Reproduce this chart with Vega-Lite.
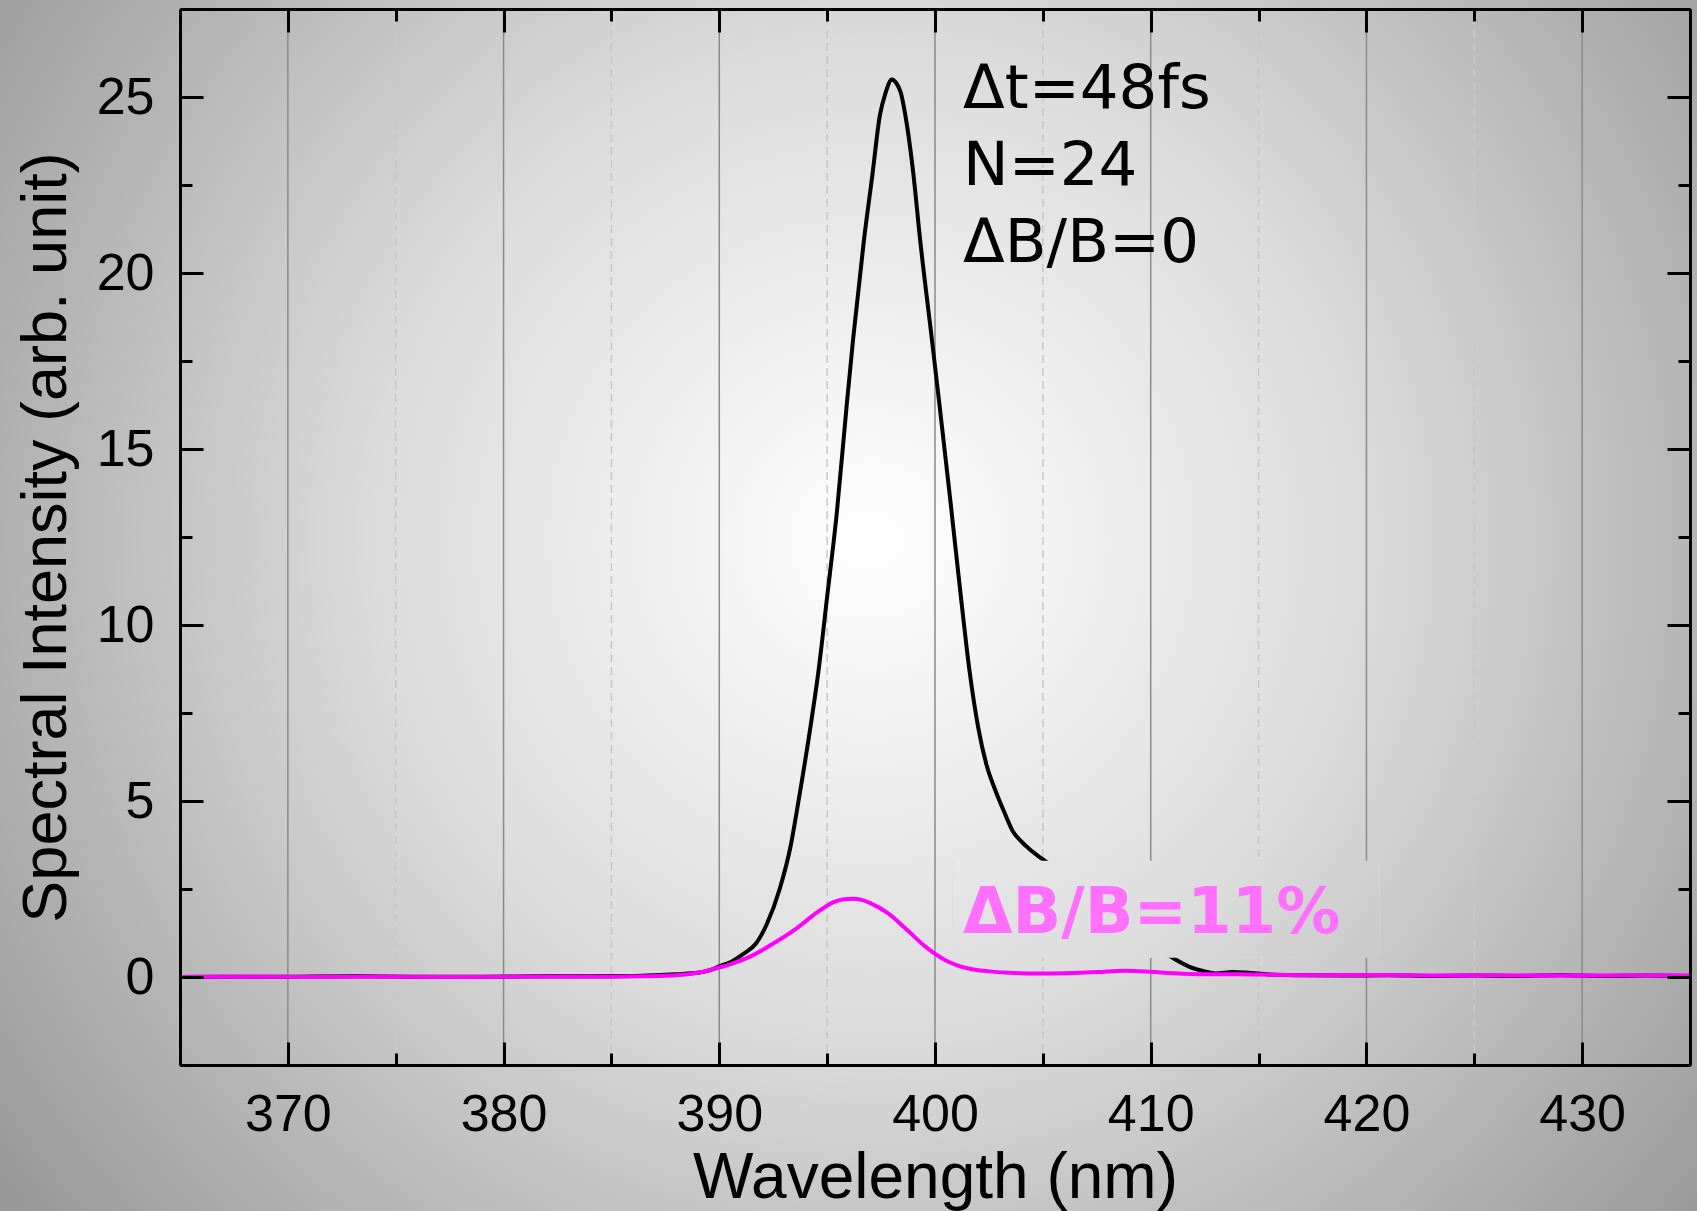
{
  "$schema": "https://vega.github.io/schema/vega-lite/v6.json",
  "width": 1697,
  "height": 1211,
  "autosize": {"type": "none"},
  "padding": 0,
  "background": "#a0a0a0",
  "view": {"stroke": null, "fill": "#c8c8c8"},
  "datasets": {
    "gridlines": [
      {"wavelength": 370, "kind": "major"},
      {"wavelength": 380, "kind": "major"},
      {"wavelength": 390, "kind": "major"},
      {"wavelength": 400, "kind": "major"},
      {"wavelength": 410, "kind": "major"},
      {"wavelength": 420, "kind": "major"},
      {"wavelength": 430, "kind": "major"},
      {"wavelength": 375, "kind": "minor"},
      {"wavelength": 385, "kind": "minor"},
      {"wavelength": 395, "kind": "minor"},
      {"wavelength": 405, "kind": "minor"},
      {"wavelength": 415, "kind": "minor"},
      {"wavelength": 425, "kind": "minor"}
    ],
    "spectra": [
      {"series": "ΔB/B=0", "wavelength": 365, "intensity": 0.0},
      {"series": "ΔB/B=0", "wavelength": 367, "intensity": 0.01},
      {"series": "ΔB/B=0", "wavelength": 370, "intensity": 0.01},
      {"series": "ΔB/B=0", "wavelength": 373, "intensity": 0.02},
      {"series": "ΔB/B=0", "wavelength": 376, "intensity": 0.01},
      {"series": "ΔB/B=0", "wavelength": 379, "intensity": 0.01},
      {"series": "ΔB/B=0", "wavelength": 382, "intensity": 0.02},
      {"series": "ΔB/B=0", "wavelength": 384, "intensity": 0.02},
      {"series": "ΔB/B=0", "wavelength": 386, "intensity": 0.03},
      {"series": "ΔB/B=0", "wavelength": 387, "intensity": 0.05},
      {"series": "ΔB/B=0", "wavelength": 388, "intensity": 0.08},
      {"series": "ΔB/B=0", "wavelength": 389, "intensity": 0.12},
      {"series": "ΔB/B=0", "wavelength": 389.5, "intensity": 0.18},
      {"series": "ΔB/B=0", "wavelength": 390, "intensity": 0.3},
      {"series": "ΔB/B=0", "wavelength": 390.6, "intensity": 0.45},
      {"series": "ΔB/B=0", "wavelength": 391.1, "intensity": 0.65},
      {"series": "ΔB/B=0", "wavelength": 391.7, "intensity": 0.95},
      {"series": "ΔB/B=0", "wavelength": 392.2, "intensity": 1.5},
      {"series": "ΔB/B=0", "wavelength": 392.8, "intensity": 2.5},
      {"series": "ΔB/B=0", "wavelength": 393.3, "intensity": 3.7},
      {"series": "ΔB/B=0", "wavelength": 393.7, "intensity": 5.1},
      {"series": "ΔB/B=0", "wavelength": 394.2, "intensity": 7.0},
      {"series": "ΔB/B=0", "wavelength": 394.6, "intensity": 8.7},
      {"series": "ΔB/B=0", "wavelength": 395.0, "intensity": 10.8},
      {"series": "ΔB/B=0", "wavelength": 395.45, "intensity": 13.2},
      {"series": "ΔB/B=0", "wavelength": 395.9, "intensity": 16.2},
      {"series": "ΔB/B=0", "wavelength": 396.2, "intensity": 18.1},
      {"series": "ΔB/B=0", "wavelength": 396.7, "intensity": 20.9},
      {"series": "ΔB/B=0", "wavelength": 397.1, "intensity": 22.8},
      {"series": "ΔB/B=0", "wavelength": 397.45, "intensity": 24.5},
      {"series": "ΔB/B=0", "wavelength": 397.7, "intensity": 25.1},
      {"series": "ΔB/B=0", "wavelength": 398.0, "intensity": 25.5},
      {"series": "ΔB/B=0", "wavelength": 398.2, "intensity": 25.4},
      {"series": "ΔB/B=0", "wavelength": 398.4, "intensity": 25.15},
      {"series": "ΔB/B=0", "wavelength": 398.7, "intensity": 24.2},
      {"series": "ΔB/B=0", "wavelength": 399.0, "intensity": 22.8},
      {"series": "ΔB/B=0", "wavelength": 399.3, "intensity": 21.0},
      {"series": "ΔB/B=0", "wavelength": 399.8, "intensity": 18.4},
      {"series": "ΔB/B=0", "wavelength": 400.2, "intensity": 16.3},
      {"series": "ΔB/B=0", "wavelength": 400.7, "intensity": 13.6},
      {"series": "ΔB/B=0", "wavelength": 401.2, "intensity": 10.8},
      {"series": "ΔB/B=0", "wavelength": 401.6, "intensity": 8.7},
      {"series": "ΔB/B=0", "wavelength": 402.0, "intensity": 7.1},
      {"series": "ΔB/B=0", "wavelength": 402.4, "intensity": 6.0},
      {"series": "ΔB/B=0", "wavelength": 402.8, "intensity": 5.3},
      {"series": "ΔB/B=0", "wavelength": 403.2, "intensity": 4.7},
      {"series": "ΔB/B=0", "wavelength": 403.6, "intensity": 4.15},
      {"series": "ΔB/B=0", "wavelength": 404.0, "intensity": 3.85},
      {"series": "ΔB/B=0", "wavelength": 404.4, "intensity": 3.62},
      {"series": "ΔB/B=0", "wavelength": 405.0, "intensity": 3.34},
      {"series": "ΔB/B=0", "wavelength": 406, "intensity": 2.9},
      {"series": "ΔB/B=0", "wavelength": 407, "intensity": 2.4},
      {"series": "ΔB/B=0", "wavelength": 408, "intensity": 1.9},
      {"series": "ΔB/B=0", "wavelength": 409, "intensity": 1.4},
      {"series": "ΔB/B=0", "wavelength": 410, "intensity": 0.95},
      {"series": "ΔB/B=0", "wavelength": 411, "intensity": 0.55},
      {"series": "ΔB/B=0", "wavelength": 411.8, "intensity": 0.29},
      {"series": "ΔB/B=0", "wavelength": 412.5, "intensity": 0.16},
      {"series": "ΔB/B=0", "wavelength": 413, "intensity": 0.1},
      {"series": "ΔB/B=0", "wavelength": 413.8, "intensity": 0.14},
      {"series": "ΔB/B=0", "wavelength": 414.5, "intensity": 0.12},
      {"series": "ΔB/B=0", "wavelength": 415.5, "intensity": 0.07},
      {"series": "ΔB/B=0", "wavelength": 417, "intensity": 0.05},
      {"series": "ΔB/B=0", "wavelength": 419, "intensity": 0.04},
      {"series": "ΔB/B=0", "wavelength": 421, "intensity": 0.05},
      {"series": "ΔB/B=0", "wavelength": 423, "intensity": 0.03},
      {"series": "ΔB/B=0", "wavelength": 425, "intensity": 0.04},
      {"series": "ΔB/B=0", "wavelength": 427, "intensity": 0.03},
      {"series": "ΔB/B=0", "wavelength": 429, "intensity": 0.05},
      {"series": "ΔB/B=0", "wavelength": 431, "intensity": 0.03},
      {"series": "ΔB/B=0", "wavelength": 433, "intensity": 0.04},
      {"series": "ΔB/B=0", "wavelength": 435, "intensity": 0.03},
      {"series": "ΔB/B=11%", "wavelength": 365, "intensity": 0.0},
      {"series": "ΔB/B=11%", "wavelength": 368, "intensity": 0.01},
      {"series": "ΔB/B=11%", "wavelength": 371, "intensity": 0.0},
      {"series": "ΔB/B=11%", "wavelength": 374, "intensity": 0.01},
      {"series": "ΔB/B=11%", "wavelength": 377, "intensity": 0.0},
      {"series": "ΔB/B=11%", "wavelength": 380, "intensity": 0.01},
      {"series": "ΔB/B=11%", "wavelength": 383, "intensity": 0.01},
      {"series": "ΔB/B=11%", "wavelength": 385, "intensity": 0.01},
      {"series": "ΔB/B=11%", "wavelength": 386.5, "intensity": 0.02},
      {"series": "ΔB/B=11%", "wavelength": 388, "intensity": 0.05},
      {"series": "ΔB/B=11%", "wavelength": 389, "intensity": 0.12},
      {"series": "ΔB/B=11%", "wavelength": 390, "intensity": 0.27},
      {"series": "ΔB/B=11%", "wavelength": 390.5, "intensity": 0.36},
      {"series": "ΔB/B=11%", "wavelength": 391.4, "intensity": 0.57},
      {"series": "ΔB/B=11%", "wavelength": 392.5, "intensity": 0.95},
      {"series": "ΔB/B=11%", "wavelength": 393.6, "intensity": 1.39},
      {"series": "ΔB/B=11%", "wavelength": 394.5, "intensity": 1.82},
      {"series": "ΔB/B=11%", "wavelength": 395.3, "intensity": 2.13},
      {"series": "ΔB/B=11%", "wavelength": 395.8, "intensity": 2.21},
      {"series": "ΔB/B=11%", "wavelength": 396.2, "intensity": 2.22},
      {"series": "ΔB/B=11%", "wavelength": 396.6, "intensity": 2.19},
      {"series": "ΔB/B=11%", "wavelength": 397.0, "intensity": 2.1},
      {"series": "ΔB/B=11%", "wavelength": 397.8, "intensity": 1.82},
      {"series": "ΔB/B=11%", "wavelength": 398.7, "intensity": 1.34},
      {"series": "ΔB/B=11%", "wavelength": 399.6, "intensity": 0.84},
      {"series": "ΔB/B=11%", "wavelength": 400.5, "intensity": 0.47},
      {"series": "ΔB/B=11%", "wavelength": 401.5, "intensity": 0.25},
      {"series": "ΔB/B=11%", "wavelength": 402.5, "intensity": 0.16},
      {"series": "ΔB/B=11%", "wavelength": 403.5, "intensity": 0.12},
      {"series": "ΔB/B=11%", "wavelength": 404.5, "intensity": 0.1},
      {"series": "ΔB/B=11%", "wavelength": 406, "intensity": 0.11},
      {"series": "ΔB/B=11%", "wavelength": 407.5, "intensity": 0.14},
      {"series": "ΔB/B=11%", "wavelength": 408.8, "intensity": 0.18},
      {"series": "ΔB/B=11%", "wavelength": 410, "intensity": 0.15},
      {"series": "ΔB/B=11%", "wavelength": 411, "intensity": 0.11},
      {"series": "ΔB/B=11%", "wavelength": 412.3, "intensity": 0.08},
      {"series": "ΔB/B=11%", "wavelength": 414, "intensity": 0.08},
      {"series": "ΔB/B=11%", "wavelength": 416, "intensity": 0.06},
      {"series": "ΔB/B=11%", "wavelength": 418, "intensity": 0.05},
      {"series": "ΔB/B=11%", "wavelength": 420, "intensity": 0.06},
      {"series": "ΔB/B=11%", "wavelength": 422, "intensity": 0.05},
      {"series": "ΔB/B=11%", "wavelength": 424, "intensity": 0.04},
      {"series": "ΔB/B=11%", "wavelength": 426, "intensity": 0.05},
      {"series": "ΔB/B=11%", "wavelength": 428, "intensity": 0.04},
      {"series": "ΔB/B=11%", "wavelength": 430, "intensity": 0.04},
      {"series": "ΔB/B=11%", "wavelength": 432, "intensity": 0.05},
      {"series": "ΔB/B=11%", "wavelength": 435, "intensity": 0.04}
    ]
  },
  "layer": [
    {
      "data": {"values": [{"element": "page background"}]},
      "mark": {
        "type": "rect",
        "stroke": null,
        "fill": {
          "gradient": "radial",
          "x1": 0.5127, "y1": 0.4614, "r1": 0,
          "x2": 0.5127, "y2": 0.4614, "r2": 0.7,
          "stops": [
            {"offset": 0, "color": "#ffffff"},
            {"offset": 0.42, "color": "#dbdbdb"},
            {"offset": 0.9, "color": "#9a9a9a"},
            {"offset": 1, "color": "#939393"}
          ]
        }
      },
      "encoding": {}
    },
    {
      "data": {"name": "gridlines"},
      "transform": [{"filter": "datum.kind === 'minor'"}],
      "mark": {"type": "rule", "color": "#c8c8c8", "strokeWidth": 1.5, "strokeDash": [8, 5]},
      "encoding": {
        "x": {
          "field": "wavelength", "type": "quantitative",
          "scale": {"domain": [365, 435], "range": [180, 1690], "nice": false, "zero": false},
          "axis": {
            "orient": "top", "offset": -9, "zindex": 1,
            "values": [365, 375, 385, 395, 405, 415, 425, 435],
            "grid": false,
            "tickSize": -12, "tickWidth": 3, "tickColor": "black",
            "domain": false, "labels": false, "title": null
          }
        },
        "y": {
          "datum": -2.5, "type": "quantitative",
          "scale": {"domain": [-2.5, 27.5], "range": [1065, 9], "nice": false, "zero": false},
          "axis": {
            "orient": "right", "offset": -7, "zindex": 1,
            "values": [-2.5, 2.5, 7.5, 12.5, 17.5, 22.5, 27.5],
            "grid": false,
            "tickSize": -12, "tickWidth": 3, "tickColor": "black",
            "domain": false, "labels": false, "title": null
          }
        },
        "y2": {"datum": 27.5}
      }
    },
    {
      "data": {"name": "gridlines"},
      "transform": [{"filter": "datum.kind === 'major'"}],
      "mark": {"type": "rule", "color": "#8a8a8a", "strokeWidth": 1.5},
      "encoding": {
        "x": {
          "field": "wavelength", "type": "quantitative",
          "axis": {
            "orient": "top", "offset": -9, "zindex": 1,
            "values": [370, 380, 390, 400, 410, 420, 430],
            "grid": false,
            "tickSize": -23, "tickWidth": 3, "tickColor": "black",
            "domain": true, "domainColor": "black", "domainWidth": 3,
            "labels": false, "title": null
          }
        },
        "y": {
          "datum": -2.5, "type": "quantitative",
          "axis": {
            "orient": "right", "offset": -7, "zindex": 1,
            "values": [0, 5, 10, 15, 20, 25],
            "grid": false,
            "tickSize": -23, "tickWidth": 3, "tickColor": "black",
            "domain": true, "domainColor": "black", "domainWidth": 3,
            "labels": false, "title": null
          }
        },
        "y2": {"datum": 27.5}
      }
    },
    {
      "data": {"name": "spectra"},
      "transform": [{"filter": "datum.series === 'ΔB/B=0'"}],
      "mark": {"type": "line", "color": "black", "strokeWidth": 4, "interpolate": "monotone"},
      "encoding": {
        "x": {
          "field": "wavelength", "type": "quantitative",
          "axis": {
            "orient": "bottom", "offset": -146, "zindex": 1,
            "values": [370, 380, 390, 400, 410, 420, 430],
            "grid": false,
            "tickSize": -23, "tickWidth": 3, "tickColor": "black",
            "domain": true, "domainColor": "black", "domainWidth": 3,
            "labelFont": "Liberation Sans", "labelFontSize": 52, "labelColor": "black", "labelPadding": 47,
            "labelFlush": false,
            "title": "Wavelength (nm)", "titleFont": "Liberation Sans", "titleFontSize": 64,
            "titleFontWeight": "normal", "titleColor": "black", "titlePadding": 6
          }
        },
        "y": {
          "field": "intensity", "type": "quantitative",
          "axis": {
            "orient": "left", "offset": -180, "zindex": 1,
            "values": [0, 5, 10, 15, 20, 25],
            "grid": false,
            "tickSize": -23, "tickWidth": 3, "tickColor": "black",
            "domain": true, "domainColor": "black", "domainWidth": 3,
            "labelFont": "Liberation Sans", "labelFontSize": 52, "labelColor": "black", "labelPadding": 49,
            "title": "Spectral Intensity (arb. unit)", "titleFont": "Liberation Sans", "titleFontSize": 63,
            "titleFontWeight": "normal", "titleColor": "black", "titlePadding": 18
          }
        }
      }
    },
    {
      "data": {"name": "spectra"},
      "transform": [{"filter": "datum.series === 'ΔB/B=11%'"}],
      "mark": {"type": "line", "color": "#ff00ff", "strokeWidth": 4, "interpolate": "monotone"},
      "encoding": {
        "x": {
          "field": "wavelength", "type": "quantitative",
          "axis": {
            "orient": "bottom", "offset": -146, "zindex": 1,
            "values": [365, 375, 385, 395, 405, 415, 425, 435],
            "grid": false,
            "tickSize": -12, "tickWidth": 3, "tickColor": "black",
            "domain": false, "labels": false, "title": null
          }
        },
        "y": {
          "field": "intensity", "type": "quantitative",
          "axis": {
            "orient": "left", "offset": -180, "zindex": 1,
            "values": [-2.5, 2.5, 7.5, 12.5, 17.5, 22.5, 27.5],
            "grid": false,
            "tickSize": -12, "tickWidth": 3, "tickColor": "black",
            "domain": false, "labels": false, "title": null
          }
        }
      }
    },
    {
      "data": {"values": [{"element": "label background"}]},
      "mark": {
        "type": "rect",
        "fill": {
          "gradient": "radial",
          "x1": -0.1927, "y1": -0.3644, "r1": 0,
          "x2": -0.1927, "y2": -0.3644, "r2": 2.7815,
          "stops": [
            {"offset": 0, "color": "#ffffff"},
            {"offset": 0.42, "color": "#dbdbdb"},
            {"offset": 0.9, "color": "#9a9a9a"},
            {"offset": 1, "color": "#939393"}
          ]
        },
        "stroke": null
      },
      "encoding": {
        "x": {"datum": 400.8, "type": "quantitative", "axis": null},
        "x2": {"datum": 420.6},
        "y": {"datum": 0.55, "type": "quantitative", "axis": null},
        "y2": {"datum": 3.3}
      }
    },
    {
      "data": {"values": [{"label": "Δt=48fs / N=24 / ΔB/B=0"}]},
      "mark": {
        "type": "text",
        "text": ["Δt=48fs", "N=24", "ΔB/B=0"],
        "font": "DejaVu Sans", "fontSize": 61, "color": "black",
        "align": "left", "baseline": "alphabetic", "lineHeight": 77
      },
      "encoding": {
        "x": {"datum": 401.3, "type": "quantitative", "axis": null},
        "y": {"datum": 24.69, "type": "quantitative", "axis": null}
      }
    },
    {
      "data": {"values": [{"label": "ΔB/B=11%"}]},
      "mark": {
        "type": "text",
        "font": "DejaVu Sans", "fontSize": 64, "fontWeight": "bold", "color": "#ff70ff",
        "align": "left", "baseline": "alphabetic"
      },
      "encoding": {
        "text": {"field": "label", "type": "nominal"},
        "x": {"datum": 401.3, "type": "quantitative", "axis": null},
        "y": {"datum": 1.25, "type": "quantitative", "axis": null}
      }
    }
  ],
  "resolve": {"axis": {"x": "independent", "y": "independent"}}
}
